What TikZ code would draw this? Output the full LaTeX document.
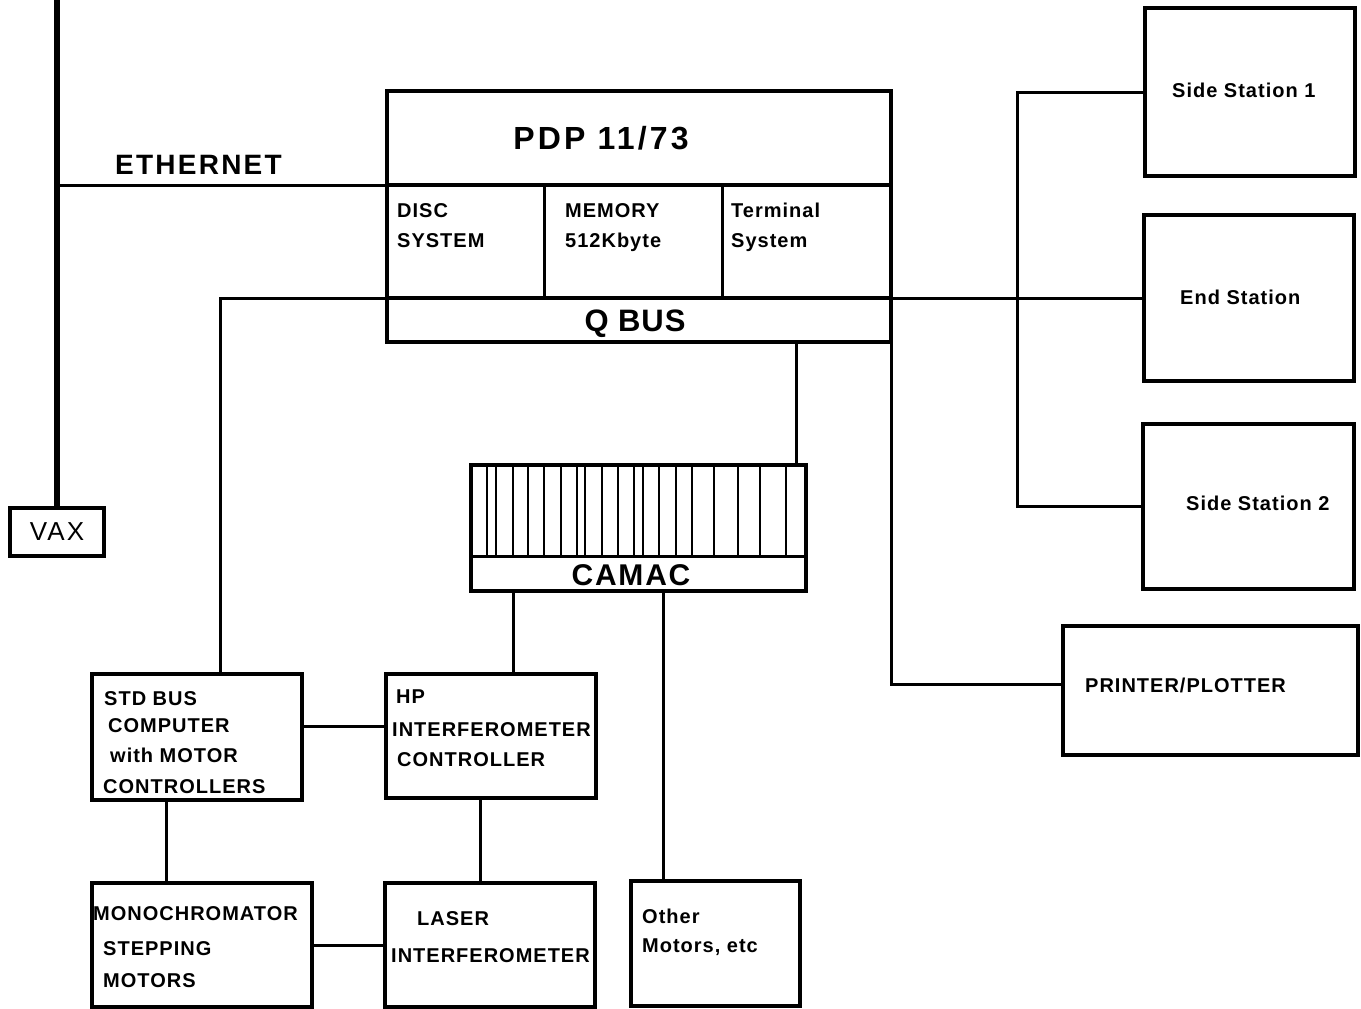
\documentclass[tikz,border=0pt]{standalone}
\usepackage{fontspec}
\setmainfont{Liberation Sans}
\newcommand\smfont{\fontsize{20}{24}\selectfont\bfseries\addfontfeatures{LetterSpace=5}}
\newcommand\bigfont[2]{\fontsize{#1}{#1}\selectfont\bfseries\addfontfeatures{LetterSpace=#2}}
\begin{document}
\begin{tikzpicture}[x=1pt,y=-1pt,
  box/.style={draw, line width=3.2pt, rectangle, inner sep=0pt, outer sep=0pt},
  conn/.style={line width=3pt},
  eth/.style={line width=5.5pt},
  slot/.style={line width=2.2pt},
  lbl/.style={inner sep=0pt, anchor=base west, font=\smfont},
  ttl/.style={inner sep=0pt, anchor=base}]
\useasboundingbox (0,0) rectangle (1361,1009);

% boxes
\node[box, minimum width=94pt, minimum height=48pt,
      font={\fontsize{26}{26}\selectfont\addfontfeatures{LetterSpace=8}}] (vax) at (57,532) {VAX};
\node[box, minimum width=504pt, minimum height=251pt] (pdp) at (639,216.5) {};
\node[box, minimum width=335pt, minimum height=126pt] (camac) at (638.5,528) {};
\node[box, minimum width=210pt, minimum height=126pt] (std) at (197,737) {};
\node[box, minimum width=210pt, minimum height=124pt] (hp) at (491,736) {};
\node[box, minimum width=220pt, minimum height=124pt] (mono) at (202,945) {};
\node[box, minimum width=210pt, minimum height=124pt] (laser) at (490,945) {};
\node[box, minimum width=169pt, minimum height=125pt] (other) at (715.5,943.5) {};
\node[box, minimum width=210pt, minimum height=168pt] (ss1) at (1250,92) {};
\node[box, minimum width=210pt, minimum height=166pt] (es) at (1249,298) {};
\node[box, minimum width=211pt, minimum height=165pt] (ss2) at (1248.5,506.5) {};
\node[box, minimum width=295pt, minimum height=129pt] (printer) at (1210.5,690.5) {};

% PDP internal divisions
\draw[line width=3.2pt] (387,185) -- (891,185);
\draw[line width=3.2pt] (387,298) -- (891,298);
\draw[line width=3pt] (544,185) -- (544,298);
\draw[line width=3pt] (722,185) -- (722,298);

% CAMAC crate
\draw[line width=3pt] (471,556) -- (806,556);
\foreach \x in {487,496,513,528,544,561,577,585,602,618,634,643,659,676,692,714,738,760,786}
  \draw[slot] (\x,465) -- (\x,556);

% connectors
\coordinate (top) at (0,0);
\coordinate (ethy) at (0,185);
\draw[eth] (vax.north) -- (vax.north |- top);
\draw[conn] (vax.north |- ethy) -- (pdp.west |- ethy);

\coordinate (qbl) at (220,298);
\draw[conn] (std.north -| qbl) -- (qbl) -- (qbl -| pdp.west);
\draw[conn] (pdp.east |- qbl) -- (es.west |- qbl);

\coordinate (br) at (1017,0);
\draw[conn] (ss1.west) -- (ss1.west -| br) -- (ss2.west -| br) -- (ss2.west);

\coordinate (pc) at (891,684);
\draw[conn] (pdp.south east) -- (pc) -- (pc -| printer.west);

\coordinate (qc) at (796,342);
\draw[conn] (qc) -- (qc |- camac.north);

\coordinate (ch) at (513,0);
\draw[conn] (camac.south -| ch) -- (hp.north -| ch);
\coordinate (co) at (663,0);
\draw[conn] (camac.south -| co) -- (other.north -| co);
\coordinate (sh) at (0,726);
\draw[conn] (std.east |- sh) -- (hp.west |- sh);
\coordinate (sm) at (166,0);
\draw[conn] (std.south -| sm) -- (mono.north -| sm);
\coordinate (hl) at (480,0);
\draw[conn] (hp.south -| hl) -- (laser.north -| hl);
\draw[conn] (mono.east) -- (laser.west);

% titles
\node[ttl, font={\bigfont{32}{10}}] (tpdp) at (601,149) {PDP 11/73};
\node[ttl, font={\bigfont{31}{3}}] (tqbus) at (635,331) {Q BUS};
\node[ttl, font={\bigfont{30}{6}}] (tcamac) at (631,585) {CAMAC};
\node[lbl, font={\bigfont{28}{8}}] (teth) at (115,174) {ETHERNET};

% labels
\node[lbl] (l1) at (397,217) {DISC};
\node[lbl] (l2) at (397,247) {SYSTEM};
\node[lbl] (l3) at (565,217) {MEMORY};
\node[lbl] (l4) at (565,247) {512Kbyte};
\node[lbl] (l5) at (731,217) {Terminal};
\node[lbl] (l6) at (731,247) {System};
\node[lbl] (l7) at (1172,97) {Side Station 1};
\node[lbl] (l8) at (1180,304) {End Station};
\node[lbl] (l9) at (1186,510) {Side Station 2};
\node[lbl] (l10) at (1085,692) {PRINTER/PLOTTER};
\node[lbl] (l11) at (104,705) {STD BUS};
\node[lbl] (l12) at (108,732) {COMPUTER};
\node[lbl] (l13) at (110,762) {with MOTOR};
\node[lbl] (l14) at (103,793) {CONTROLLERS};
\node[lbl] (l15) at (396,703) {HP};
\node[lbl] (l16) at (392,736) {INTERFEROMETER};
\node[lbl] (l17) at (397,766) {CONTROLLER};
\node[lbl] (l18) at (93,920) {MONOCHROMATOR};
\node[lbl] (l19) at (103,955) {STEPPING};
\node[lbl] (l20) at (103,987) {MOTORS};
\node[lbl] (l21) at (417,925) {LASER};
\node[lbl] (l22) at (391,962) {INTERFEROMETER};
\node[lbl] (l23) at (642,923) {Other};
\node[lbl] (l24) at (642,952) {Motors, etc};
\end{tikzpicture}
\end{document}
